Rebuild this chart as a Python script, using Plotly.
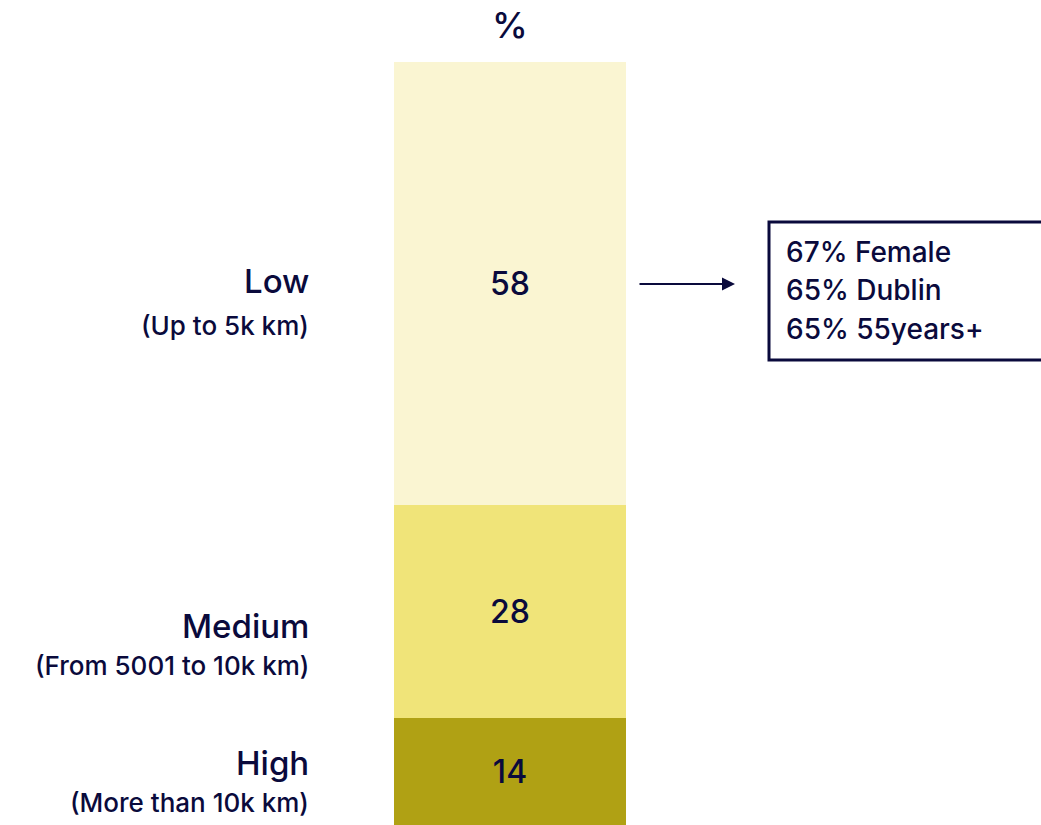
import plotly.graph_objects as go

# Share of respondents by distance band (stacked, bottom to top)
bands = ["High", "Medium", "Low"]
subtitles = ["(More than 10k km)", "(From 5001 to 10k km)", "(Up to 5k km)"]
shares = [14, 28, 58]
colors = ["#B0A114", "#F0E479", "#FAF5D2"]

# Profile of the Low band
profile_lines = ["67% Female", "65% Dublin", "65% 55years+"]

NAVY = "#0A0A3C"
FONT = "Inter"
W, H = 1041, 825


def px(x):
    return x / W


def py(y):
    return 1 - y / H


fig = go.Figure()
for band, val, col in zip(bands, shares, colors):
    fig.add_trace(go.Bar(
        x=[510], y=[val], name=band, width=232,
        marker=dict(color=col, line=dict(width=0)),
        text=[str(val)], textposition="inside", insidetextanchor="middle",
        textangle=0,
        textfont=dict(family=FONT, size=32, color=NAVY, weight=500),
        hoverinfo="skip",
    ))

# Band labels to the left of the bar
label_pos = {"Low": (281, 325), "Medium": (626, 665), "High": (763, 802)}
annotations = []
for band, sub in zip(bands, subtitles):
    y_main, y_sub = label_pos[band]
    annotations.append(dict(
        x=px(311), y=py(y_main), xref="paper", yref="paper",
        text=band, showarrow=False, xanchor="right", yanchor="middle",
        font=dict(family=FONT, size=33, color=NAVY, weight=500),
    ))
    annotations.append(dict(
        x=px(311), y=py(y_sub), xref="paper", yref="paper",
        text=sub, showarrow=False, xanchor="right", yanchor="middle",
        font=dict(family=FONT, size=26, color=NAVY, weight=500),
    ))

# Column header
annotations.append(dict(
    x=px(510), y=py(25), xref="paper", yref="paper",
    text="%", showarrow=False, xanchor="center", yanchor="middle",
    font=dict(family=FONT, size=36, color=NAVY, weight=500),
))

# Arrow pointing to the profile box
annotations.append(dict(
    x=px(735), y=py(284), ax=-97, ay=0,
    xref="paper", yref="paper", axref="pixel", ayref="pixel",
    text="", showarrow=True, arrowhead=2, arrowsize=1.3, arrowwidth=2,
    arrowcolor=NAVY,
))

for i, line in enumerate(profile_lines):
    annotations.append(dict(
        x=px(784), y=py(252 + i * 38.5), xref="paper", yref="paper",
        text=line, showarrow=False, xanchor="left", yanchor="middle",
        font=dict(family=FONT, size=28, color=NAVY, weight=500),
    ))

fig.update_layout(
    width=W, height=H,
    margin=dict(l=0, r=0, t=0, b=0),
    barmode="stack",
    showlegend=False,
    plot_bgcolor="white", paper_bgcolor="white",
    xaxis=dict(range=[0, W], visible=False, fixedrange=True),
    yaxis=dict(range=[0, 100 * H / (H - 62)], visible=False, fixedrange=True),
    annotations=annotations,
    shapes=[dict(
        type="rect", xref="paper", yref="paper",
        x0=px(769), x1=px(1046), y0=py(360), y1=py(222),
        line=dict(color=NAVY, width=3), fillcolor="rgba(0,0,0,0)",
    )],
)

fig.write_html("out.html")
